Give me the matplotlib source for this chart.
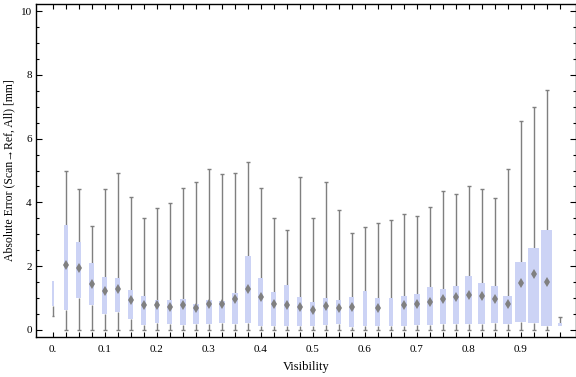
import matplotlib.pyplot as plt
import numpy as np
from matplotlib.ticker import FixedLocator, MultipleLocator

# box whisker stats per visibility bin (bin centers every 0.025)
visibility = np.arange(40) * 0.025
mins = [0.45, 0, 0, 0, 0, 0, 0, 0, 0, 0,
        0, 0, 0, 0, 0, 0, 0, 0, 0, 0,
        0, 0, 0, 0, 0, 0, 0, 0, 0, 0,
        0, 0, 0, 0, 0, 0, 0, 0, 0, 0.13]
q1s = [0.76, 0.63, 0.99, 0.77, 0.51, 0.55, 0.33, 0.17, 0.23, 0.20,
       0.17, 0.20, 0.20, 0.23, 0.20, 0.23, 0.14, 0.14, 0.14, 0.14,
       0.14, 0.17, 0.20, 0.10, 0.14, 0.14, 0.14, 0.14, 0.17, 0.17,
       0.20, 0.20, 0.20, 0.20, 0.23, 0.20, 0.26, 0.23, 0.14, 0.13]
medians = [1.10, 2.05, 1.94, 1.45, 1.21, 1.28, 0.94, 0.77, 0.79, 0.71,
           0.77, 0.70, 0.81, 0.83, 0.97, 1.28, 1.03, 0.81, 0.79, 0.72,
           0.63, 0.75, 0.69, 0.72, 0.82, 0.70, 0.72, 0.79, 0.82, 0.89,
           0.97, 1.02, 1.11, 1.06, 0.98, 0.81, 1.46, 1.76, 1.52, 0.18]
q3s = [1.55, 3.28, 2.77, 2.10, 1.67, 1.64, 1.26, 1.07, 0.94, 0.94,
       0.98, 0.80, 0.94, 0.91, 1.17, 2.33, 1.64, 1.20, 1.42, 1.04,
       0.88, 1.01, 0.94, 1.04, 1.22, 1.01, 1.01, 1.05, 1.13, 1.35,
       1.29, 1.38, 1.70, 1.48, 1.38, 1.07, 2.14, 2.58, 3.14, 0.23]
maxs = [1.55, 4.97, 4.43, 3.27, 4.43, 4.91, 4.18, 3.52, 3.83, 3.97,
        4.46, 4.63, 5.06, 4.88, 4.91, 5.28, 4.46, 3.52, 3.12, 4.81,
        3.52, 4.63, 3.77, 3.04, 3.23, 3.36, 3.45, 3.63, 3.57, 3.85,
        4.36, 4.26, 4.51, 4.42, 4.14, 5.05, 6.55, 7.00, 7.51, 0.41]
# relative box widths (bins with more samples are wider)
box_px = [1.3, 4.3, 5, 5, 5, 5, 5, 5, 4.5, 5,
          6, 6, 6, 6, 6, 6, 5, 5, 5, 5,
          5, 5, 5, 5, 4, 5, 4, 6, 6, 6,
          6, 6, 7, 7, 7, 9, 11, 11, 11, 4]

xticks = [0.0, 0.1, 0.2, 0.3, 0.4, 0.5, 0.6, 0.7, 0.8, 0.9]
xticklabels = ['0.', '0.1', '0.2', '0.3', '0.4', '0.5', '0.6', '0.7', '0.8', '0.9']
yticks = [0, 2, 4, 6, 8, 10]
yticklabels = ['0', '2', '4', '6', '8', '10']

box_color = '#ccd3f5'
whisker_color = '#7f7f7f'
px = 1 / 520.0  # data units per pixel along x

plt.rcParams['font.family'] = ['Liberation Serif', 'DejaVu Serif']

fig = plt.figure(figsize=(5.76, 3.77), dpi=100)
ax = fig.add_axes([36 / 576, 1 - 337 / 377, 539.5 / 576, 333 / 377])

widths = np.array(box_px) * px
mins = np.array(mins)
q1s = np.array(q1s)
q3s = np.array(q3s)
maxs = np.array(maxs)

ax.vlines(visibility, mins, q1s, color=whisker_color, lw=1.0, zorder=2)
ax.vlines(visibility, q3s, maxs, color=whisker_color, lw=1.0, zorder=2)
cap = np.minimum(4 * px, widths)
show_low = mins < q1s
show_high = maxs > q3s
ax.hlines(mins[show_low], (visibility - cap / 2)[show_low], (visibility + cap / 2)[show_low],
          color=whisker_color, lw=1.0, zorder=2)
ax.hlines(maxs[show_high], (visibility - cap / 2)[show_high], (visibility + cap / 2)[show_high],
          color=whisker_color, lw=1.0, zorder=2)

ax.bar(visibility, q3s - q1s, bottom=q1s, width=widths, color=box_color,
       edgecolor='none', zorder=3)

wide = np.array(box_px) > 4.2
ax.plot(visibility[wide], np.array(medians)[wide], linestyle='none', marker='d',
        markersize=5, markeredgewidth=0, color='#808080', zorder=4)

ax.set_xlim(-17 * px, 523 * px)
ax.set_ylim(-0.22, 10.22)

ax.xaxis.set_major_locator(FixedLocator(xticks))
ax.set_xticklabels(xticklabels)
ax.xaxis.set_minor_locator(FixedLocator(visibility))
ax.yaxis.set_major_locator(FixedLocator(yticks))
ax.set_yticklabels(yticklabels)
ax.yaxis.set_minor_locator(MultipleLocator(0.5))

ax.tick_params(which='both', direction='in', top=True, right=True, labelsize=8,
               colors='black', width=0.8)
ax.tick_params(axis='x', which='major', length=3.5, pad=6)
ax.tick_params(axis='x', which='minor', length=3.5)
ax.tick_params(axis='y', which='major', length=4.5, pad=3)
ax.tick_params(axis='y', which='minor', length=2.5)

for s in ax.spines.values():
    s.set_linewidth(1.0)

ax.set_xlabel('Visibility', fontsize=9, labelpad=5)
ax.set_ylabel('Absolute Error (Scan\u2192Ref, All) [mm]', fontsize=8.5, labelpad=4)

fig.savefig('out.png', dpi=100)
